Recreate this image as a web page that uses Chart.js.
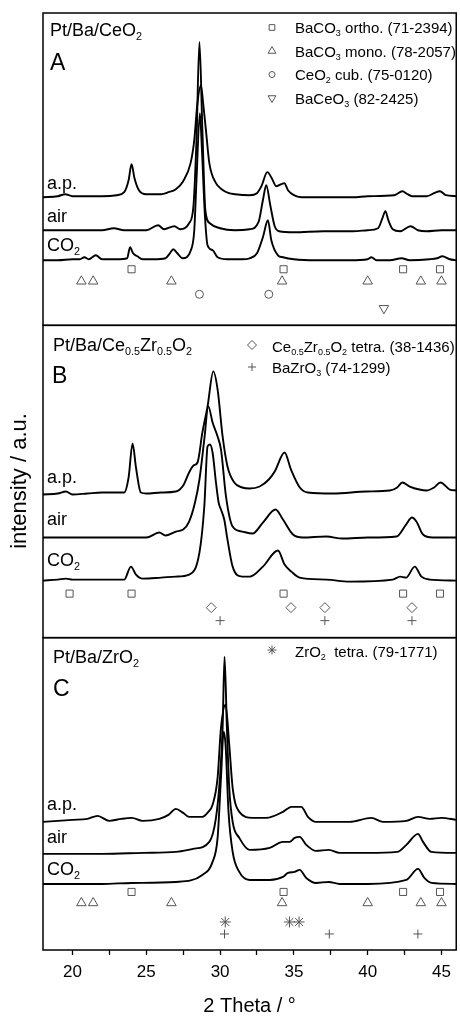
<!DOCTYPE html>
<html>
<head>
<meta charset="utf-8">
<title>XRD - Pt/Ba samples</title>
<script src="https://cdn.jsdelivr.net/npm/chart.js@4.4.0/dist/chart.umd.min.js"></script>
<style>
  body{margin:0;background:#fff;}
  #wrap{position:relative;width:460px;height:1016px;font-family:"Liberation Sans",Arial,sans-serif;color:#000;}
  #chart{position:absolute;left:0;top:0;}
  .t{position:absolute;white-space:nowrap;line-height:1;}
  .t sub{font-size:0.6em;vertical-align:-0.35em;line-height:0;}
</style>
</head>
<body>
<div id="wrap">
  <canvas id="chart" width="460" height="1016"></canvas>
</div>
<script>
// 2 theta (deg) / intensity (a.u.)
// panel A : Pt/Ba/CeO2
const ceAP = [[18,128],[19,129],[19.5,131],[20,129],[21,129],[22,129],[23,130],[23.5,133],[23.8,145],[24.0,161],[24.2,147],[24.5,135],[25,131],[26,131],[26.5,133],[27,136],[27.5,144],[28,162],[28.25,185],[28.45,220],[28.7,240],[28.85,222],[29.04,195],[29.27,162],[29.72,142],[30.1,136],[30.6,132],[31,131],[32,130],[32.5,132],[32.8,139],[33.2,153],[33.5,147],[33.8,139],[34.35,142],[34.6,135],[35,130],[35.5,128],[37,128],[39,128],[40,129],[41.8,130],[42.35,134],[42.7,131],[43,129],[44,129],[44.5,132],[44.9,134],[45.3,130],[46,129]];
const ceAir = [[18,95],[20,95],[21,95],[22,95],[22.8,97],[23.5,95],[25,95],[25.8,100],[26.2,96],[26.9,99],[27.3,96],[27.9,102],[28.2,120],[28.4,185],[28.6,283],[28.8,195],[29.0,115],[29.3,102],[30,97],[31,95],[32,96],[32.6,103],[32.9,125],[33.13,140],[33.4,120],[33.7,99],[34.0,94],[35,93],[37,94],[39,94],[40,95],[40.7,97],[41.0,107],[41.2,114],[41.4,105],[41.7,96],[42.2,94],[42.9,99],[43.4,95],[44,94],[45,95],[46,95]];
const ceCO2 = [[18,65],[19,65],[20,66],[20.5,66],[20.8,68],[21.1,66],[21.58,70],[22.0,66],[23,66],[23.7,67],[23.9,78],[24.1,72],[24.4,69],[24.75,66],[25.5,66],[26.3,67],[26.6,72],[26.83,76],[27.1,72],[27.46,67],[28.02,75],[28.25,95],[28.4,145],[28.63,212],[28.77,175],[28.97,110],[29.15,80],[29.5,75],[29.83,68],[30.5,66],[31.5,66],[32.0,67],[32.5,72],[32.9,88],[33.24,105],[33.47,85],[33.92,70],[34.26,68],[35,66],[36.5,65],[38.8,65],[40.0,66],[40.25,68],[40.6,65],[41.5,65],[42.3,67],[42.85,65],[44.2,66],[44.7,67],[45.06,69],[45.56,66],[46,65]];

// panel B : Pt/Ba/Ce0.5Zr0.5O2
const czAP = [[18,143],[19,144],[19.55,146],[20,143],[21,144],[22,145],[23,145],[23.5,145],[23.8,160],[24.07,194],[24.3,170],[24.63,145],[25,144],[26,145],[27,146],[27.5,152],[27.9,165],[28.2,172],[28.47,175],[28.8,205],[29.15,231],[29.54,266],[29.83,248],[30.17,201],[30.5,171],[30.96,155],[31.5,150],[32.0,149],[32.68,151],[33.3,158],[33.7,166],[34.37,185],[34.8,168],[35.4,150],[35.95,145],[37.65,144],[39.9,146],[41.5,147],[42.0,150],[42.35,155],[42.85,151],[43.5,148],[43.98,147],[44.5,150],[44.93,155],[45.56,148],[46,147]];
const czAir = [[18,100],[20,100],[22,100],[24,100],[25,100],[25.88,105],[26.3,102],[27.0,106],[27.5,108],[27.9,116],[28.3,135],[28.6,158],[28.93,198],[29.2,231],[29.49,215],[29.83,201],[30.06,188],[30.4,141],[30.85,111],[31.5,106],[32.2,104],[32.9,115],[33.76,128],[34.26,118],[34.94,103],[35.6,100],[37.2,101],[38.3,99],[40,100],[41.95,101],[42.6,113],[43.0,120],[43.3,116],[43.75,103],[44.4,100],[46,100]];
const czCO2 = [[18,57],[19,58],[19.55,59],[20,58],[22,58],[23.5,58],[23.96,71],[24.3,63],[24.75,59],[26,60],[27,61],[27.9,63],[28.6,85],[28.93,131],[29.15,191],[29.31,193],[29.49,185],[29.72,155],[29.9,135],[30.06,128],[30.28,118],[30.5,98],[30.85,71],[31.5,61],[32.0,61],[32.9,71],[33.92,87],[34.37,73],[34.83,66],[35.39,60],[37.2,58],[38.78,56],[41.7,58],[42.2,61],[42.6,60],[43.19,71],[43.64,61],[44.2,58],[46,57]];

// panel C : Pt/Ba/ZrO2
const zrAP = [[18,128],[19,129],[20,130],[21,131],[21.7,134],[22.49,129],[23.3,131],[24.02,132],[24.75,129],[25.88,131],[26.5,135],[27.0,141],[27.5,137],[27.9,133],[28.8,133],[29.2,138],[29.49,145],[29.83,172],[30.06,222],[30.37,245],[30.62,205],[30.85,162],[31.3,138],[32.2,132],[33.13,132],[34.26,138],[34.83,143],[35.5,143],[35.95,133],[36.5,128],[38.78,128],[40.25,132],[41.04,128],[42.62,129],[43.41,133],[44.2,131],[45.0,132],[46,130]];
const zrAir = [[18,96],[20,96],[22,96],[24.75,97],[27,98],[28.16,101],[29.27,108],[29.72,132],[29.99,172],[30.17,222],[30.3,293],[30.46,222],[30.62,162],[30.85,128],[31.3,112],[32.0,100],[33.36,102],[34.26,108],[34.71,108],[35.05,112],[35.39,113],[35.84,105],[36.5,99],[37.36,100],[38.1,97],[40,97],[42.0,98],[42.62,105],[43.41,116],[43.75,108],[44.32,98],[46,97]];
const zrCO2 = [[18,66],[20,66],[22,66],[24,67],[27,68],[28.8,75],[29.49,88],[29.83,112],[30.06,172],[30.24,218],[30.37,205],[30.57,138],[30.85,98],[31.3,78],[32.0,70],[33.36,70],[34.26,73],[34.6,77],[35.05,78],[35.39,80],[35.84,72],[36.5,67],[37.36,68],[38.1,66],[40,66],[42.62,70],[43.41,81],[43.84,72],[44.32,67],[46,66]];

// reference reflections (2 theta)
const baco3OrthoAC = [24.0, 34.3, 42.4, 44.9];
const baco3OrthoB = [19.8, 24.0, 34.3, 42.4, 44.9];
const baco3Mono = [20.6, 21.4, 26.7, 34.2, 40.0, 43.6, 45.0];
const ceo2Cub = [28.6, 33.3];
const baceo3 = [41.1];
const czTetra = [29.4, 34.8, 37.1, 43.0];
const bazro3B = [30.0, 37.1, 43.0];
const zro2Tetra = [30.35, 34.7, 35.35];
const bazro3C = [30.3, 37.4, 43.4];

const xTicks = [20, 25, 30, 35, 40, 45];

const FONT = '"Liberation Sans", Arial, sans-serif';
const MARK = '#555';

const line = (data, axis) => ({
  data: data.map(([x, y]) => ({x, y})),
  yAxisID: axis,
  borderColor: '#000',
  borderWidth: 1.9,
  pointRadius: 0,
  cubicInterpolationMode: 'monotone',
  fill: false
});

const marks = (angles, level, axis, style, r, rot) => ({
  data: angles.map(x => ({x, y: level})),
  yAxisID: axis,
  showLine: false,
  pointStyle: style,
  pointRadius: r,
  pointRotation: rot || 0,
  pointBorderColor: MARK,
  pointBackgroundColor: 'rgba(0,0,0,0)',
  pointBorderWidth: 1
});

const datasets = [
  line(ceAP, 'yA'), line(ceAir, 'yA'), line(ceCO2, 'yA'),
  marks(baco3OrthoAC, 56, 'yA', 'rect', 5),
  marks(baco3Mono, 44, 'yA', 'triangle', 5.5),
  marks(ceo2Cub, 31, 'yA', 'circle', 4),
  marks(baceo3, 17, 'yA', 'triangle', 5.5, 180),

  line(czAP, 'yB'), line(czAir, 'yB'), line(czCO2, 'yB'),
  marks(baco3OrthoB, 44, 'yB', 'rect', 5),
  marks(czTetra, 30, 'yB', 'rectRot', 5),
  marks(bazro3B, 17, 'yB', 'cross', 4.5),

  line(zrAP, 'yC'), line(zrAir, 'yC'), line(zrCO2, 'yC'),
  marks(baco3OrthoAC, 58, 'yC', 'rect', 5),
  marks(baco3Mono, 47, 'yC', 'triangle', 5.5),
  marks(zro2Tetra, 28, 'yC', 'star', 5.5),
  marks(bazro3C, 16, 'yC', 'cross', 4.5)
];

const yAxis = () => ({
  type: 'linear', min: 0, max: 312,
  position: 'left', stack: 'xrd', stackWeight: 1,
  ticks: {display: false},
  grid: {display: false, drawTicks: false},
  border: {display: false}
});

// panel frames
const frames = {
  id: 'frames',
  afterDatasetsDraw(chart){
    const {ctx, chartArea: a} = chart;
    ctx.save();
    ctx.strokeStyle = '#000';
    ctx.lineWidth = 1.5;
    ['yA', 'yB', 'yC'].forEach(id => {
      const s = chart.scales[id];
      ctx.strokeRect(a.left, s.top, a.right - a.left, s.bottom - s.top);
    });
    ctx.restore();
  }
};

// legend symbols next to the phase names
const legendMarks = [
  {x: 272, y: 27.5, style: 'rect', r: 4},
  {x: 272, y: 51, style: 'triangle', r: 4.5},
  {x: 272, y: 74.5, style: 'circle', r: 3},
  {x: 272, y: 98, style: 'triangle', r: 4.5, rot: 180},
  {x: 252, y: 345, style: 'rectRot', r: 4.5},
  {x: 252, y: 367, style: 'cross', r: 4},
  {x: 272, y: 650, style: 'star', r: 4.5}
];
const legendSymbols = {
  id: 'legendSymbols',
  afterDraw(chart){
    const ctx = chart.ctx;
    ctx.save();
    ctx.strokeStyle = MARK;
    ctx.fillStyle = 'rgba(0,0,0,0)';
    ctx.lineWidth = 1;
    legendMarks.forEach(m => {
      Chart.helpers.drawPoint(ctx, {pointStyle: m.style, radius: m.r, rotation: m.rot || 0, borderWidth: 1}, m.x, m.y);
    });
    ctx.restore();
  }
};

new Chart(document.getElementById('chart'), {
  type: 'line',
  data: {datasets},
  options: {
    responsive: false,
    animation: false,
    layout: {autoPadding: false, padding: {left: 43, right: 2, top: 13, bottom: 0}},
    plugins: {legend: {display: false}, tooltip: {enabled: false}},
    scales: {
      x: {
        type: 'linear', min: 18, max: 46,
        afterFit(s){ s.height = 66; },
        ticks: {
          stepSize: 2.5, includeBounds: false, autoSkip: false, maxRotation: 0,
          padding: 9, color: '#000',
          font: {family: FONT, size: 17, lineHeight: 1},
          callback: v => xTicks.includes(v) ? v : ''
        },
        grid: {drawOnChartArea: false, tickLength: 5, color: '#000', tickWidth: 1.3},
        border: {display: false},
        title: {display: true, text: '2 Theta / °', color: '#000', font: {family: FONT, size: 20, lineHeight: 1}, padding: {top: 0, bottom: 0}}
      },
      // stacked left axes are laid out last-declared on top
      yC: yAxis(),
      yB: yAxis(),
      yA: yAxis()
    }
  },
  plugins: [frames, legendSymbols]
});

// texts placed on the panels
const wrap = document.getElementById('wrap');
function text(html, left, baseline, size){
  const d = document.createElement('div');
  d.className = 't';
  d.innerHTML = html;
  d.style.left = left + 'px';
  d.style.top = (baseline - 0.8465 * size) + 'px';
  d.style.fontSize = size + 'px';
  wrap.appendChild(d);
  return d;
}
// panel A
text('Pt/Ba/CeO<sub>2</sub>', 50, 36.7, 18);
text('A', 50, 70, 23);
text('BaCO<sub>3</sub> ortho. (71-2394)', 295, 33, 15);
text('BaCO<sub>3</sub> mono. (78-2057)', 295, 56.5, 15);
text('CeO<sub>2</sub> cub. (75-0120)', 295, 80, 15);
text('BaCeO<sub>3</sub> (82-2425)', 295, 103.5, 15);
text('a.p.', 47, 189.5, 18);
text('air', 47, 222.7, 18);
text('CO<sub>2</sub>', 47, 251, 18);
// panel B
text('Pt/Ba/Ce<sub>0.5</sub>Zr<sub>0.5</sub>O<sub>2</sub>', 53, 351.7, 18);
text('B', 52, 383.3, 23);
text('Ce<sub>0.5</sub>Zr<sub>0.5</sub>O<sub>2</sub> tetra. (38-1436)', 272, 351.7, 15);
text('BaZrO<sub>3</sub> (74-1299)', 272, 373, 15);
text('a.p.', 47, 483.3, 18);
text('air', 47, 525, 18);
text('CO<sub>2</sub>', 47, 566, 18);
// panel C
text('Pt/Ba/ZrO<sub>2</sub>', 53, 663.3, 18);
text('C', 53, 696.7, 23);
text('ZrO<sub>2</sub>&nbsp; tetra. (79-1771)', 295, 656.7, 15);
text('a.p.', 47, 810, 18);
text('air', 47, 843.3, 18);
text('CO<sub>2</sub>', 47, 875, 18);

// y axis title
const yt = text('intensity / a.u.', 19 - 100, 481 + 0.35 * 22, 22);
yt.style.width = '200px';
yt.style.textAlign = 'center';
yt.style.transform = 'rotate(-90deg)';
</script>
</body>
</html>
